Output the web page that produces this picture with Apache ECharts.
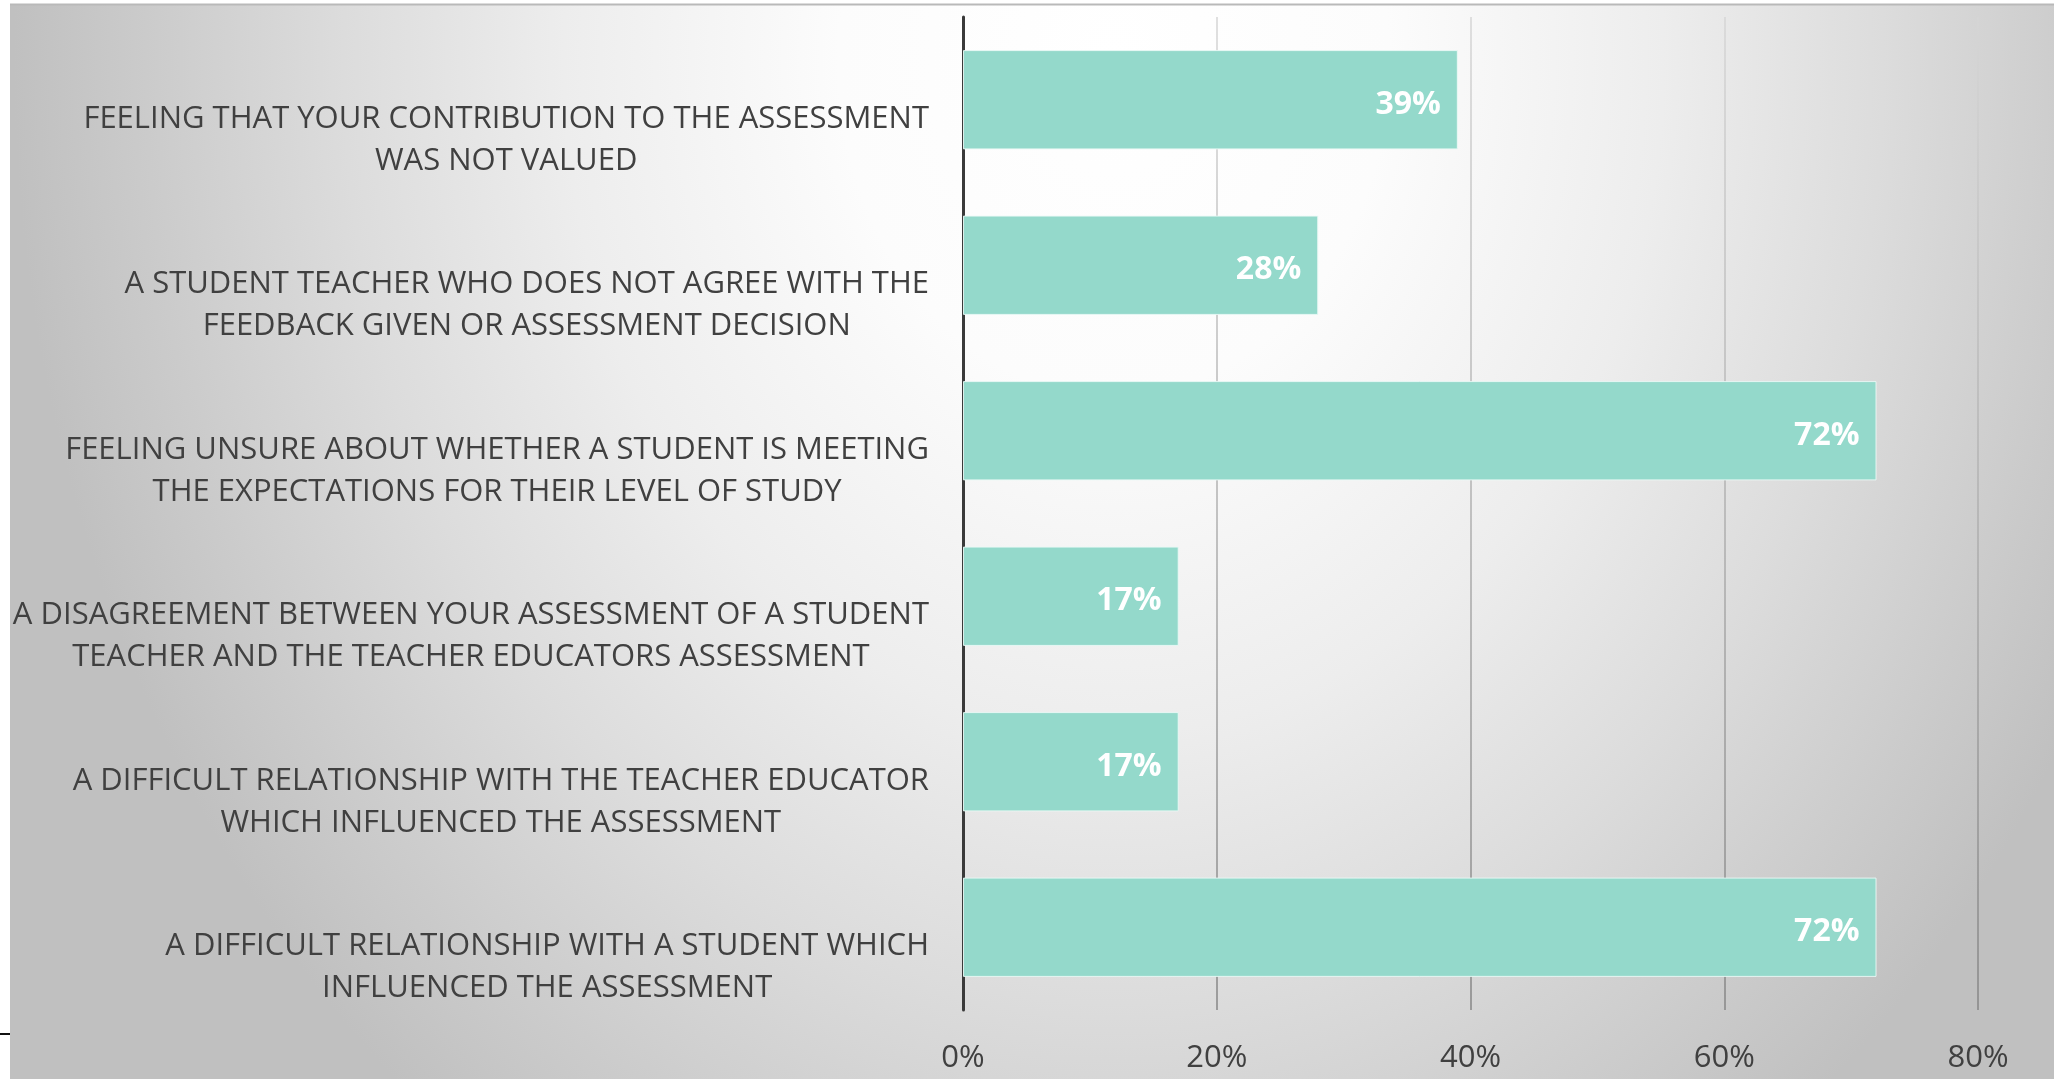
<!DOCTYPE html>
<html>
<head>
<meta charset="utf-8">
<script src="https://cdn.jsdelivr.net/npm/echarts@6/dist/echarts.min.js"></script>
<style>
html,body{margin:0;padding:0;background:#fff;}
#c{width:2054px;height:1079px;}
</style>
</head>
<body>
<div id="c"></div>
<script>
const categories = [
  "FEELING THAT YOUR CONTRIBUTION TO THE ASSESSMENT\nWAS NOT VALUED",
  "A STUDENT TEACHER WHO DOES NOT AGREE WITH THE\nFEEDBACK GIVEN OR ASSESSMENT DECISION",
  "FEELING UNSURE ABOUT WHETHER A STUDENT IS MEETING\nTHE EXPECTATIONS FOR THEIR LEVEL OF STUDY",
  "A DISAGREEMENT BETWEEN YOUR ASSESSMENT OF A STUDENT\nTEACHER AND THE TEACHER EDUCATORS ASSESSMENT",
  "A DIFFICULT RELATIONSHIP WITH THE TEACHER EDUCATOR\nWHICH INFLUENCED THE ASSESSMENT",
  "A DIFFICULT RELATIONSHIP WITH A STUDENT WHICH\nINFLUENCED THE ASSESSMENT"
];
const values = [39, 28, 72, 17, 17, 72];
const axisMin = 0, axisMax = 80, axisStep = 20;

const chart = echarts.init(document.getElementById('c'), null, {renderer: 'canvas'});
const FONT = '"Open Sans", "Noto Sans", sans-serif';

// elliptical background gradient via scaled rect
const bgW = 2044, bgH = 1075;
const rx = 1100, ry = 1350;
const sx = rx / ry;
const preW = bgW / sx;
const rFrac = ry / Math.min(preW, bgH);

chart.setOption({
  backgroundColor: '#ffffff',
  animation: false,
  graphic: [
    {
      type: 'rect', z: -10, silent: true,
      x: 10, y: 4, scaleX: sx, scaleY: 1,
      shape: {x: 0, y: 0, width: preW, height: bgH},
      style: {
        fill: {
          type: 'radial', x: 0.54, y: 0.05, r: rFrac,
          colorStops: [
            {offset: 0, color: '#ffffff'},
            {offset: 0.25, color: '#fcfcfc'},
            {offset: 0.5, color: '#ededed'},
            {offset: 0.7, color: '#dcdcdc'},
            {offset: 0.88, color: '#cbcbcb'},
            {offset: 1, color: '#c0c0c0'}
          ]
        }
      }
    },
    {
      type: 'line', z: -9, silent: true,
      shape: {x1: 10, y1: 4.5, x2: 2054, y2: 4.5},
      style: {stroke: '#b9b9b9', lineWidth: 2}
    },
    {
      type: 'line', z: -9, silent: true,
      shape: {x1: 0, y1: 1034, x2: 10, y2: 1034},
      style: {stroke: '#111111', lineWidth: 2}
    }
  ],
  grid: {left: 963, right: 76, top: 17, bottom: 69, containLabel: false},
  xAxis: {
    type: 'value',
    min: axisMin, max: axisMax, interval: axisStep,
    axisLine: {show: false},
    axisTick: {show: false},
    axisLabel: {
      formatter: '{value}%',
      color: '#404040',
      fontFamily: FONT,
      fontSize: 31,
      margin: 33
    },
    splitLine: {
      show: true,
      lineStyle: {
        width: 1.5,
        color: {
          type: 'linear', x: 0, y: 0, x2: 0, y2: 1,
          colorStops: [
            {offset: 0, color: '#d6d6d6'},
            {offset: 0.5, color: '#b0b0b0'},
            {offset: 1, color: '#868686'}
          ]
        }
      }
    }
  },
  yAxis: {
    type: 'category',
    data: categories,
    inverse: true,
    axisLine: {show: true, lineStyle: {color: '#3a3a3a', width: 3}},
    axisTick: {show: false},
    splitLine: {show: false},
    axisLabel: {
      align: 'right',
      verticalAlign: 'middle',
      margin: 34,
      formatter: function (v) {
        const lines = v.split('\n');
        return '{s| }\n' + lines.map(function (l) { return '{a|' + l + '}'; }).join('\n');
      },
      rich: {
        s: {lineHeight: 80, fontSize: 10, color: 'transparent', align: 'center'},
        a: {
          align: 'center',
          color: '#404040',
          fontFamily: FONT,
          fontSize: 31,
          lineHeight: 42
        }
      }
    }
  },
  series: [{
    type: 'bar',
    data: values,
    barCategoryGap: '40%',
    itemStyle: {color: '#94d9cb', borderColor: 'rgba(235,250,246,0.9)', borderWidth: 1},
    label: {
      show: true,
      position: 'insideRight',
      distance: 17,
      offset: [0, 5],
      formatter: '{c}%',
      color: '#ffffff',
      fontFamily: FONT,
      fontWeight: 'bold',
      fontSize: 32
    }
  }]
});
</script>
</body>
</html>
